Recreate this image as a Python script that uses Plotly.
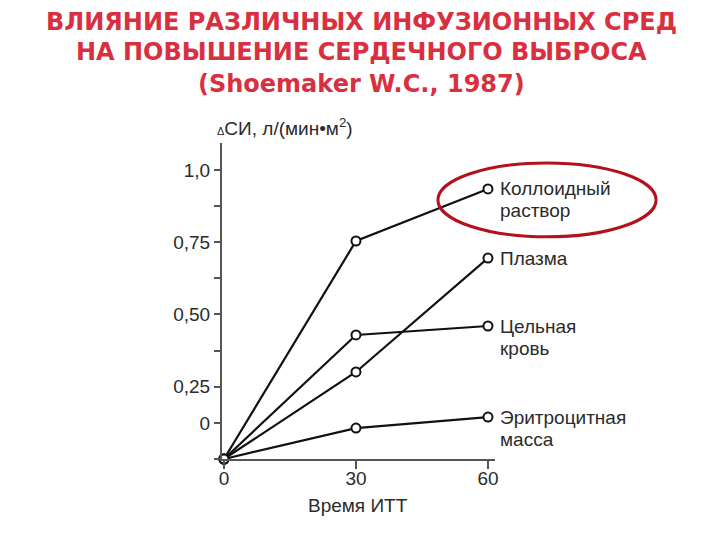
import plotly.graph_objects as go

# Data (y in axis units where the x-axis sits at 0)
time_min = [0, 30, 60]
colloid = [0.0, 0.754, 0.934]
plasma = [0.0, 0.301, 0.695]
whole_blood = [0.0, 0.429, 0.460]
rbc_mass = [0.0, 0.107, 0.145]

series_labels = [["Коллоидный", "раствор"], ["Плазма"], ["Цельная", "кровь"], ["Эритроцитная", "масса"]]
series_values = [colloid, plasma, whole_blood, rbc_mass]

y_tickvals = [0, 0.125, 0.25, 0.375, 0.5, 0.625, 0.75, 0.875, 1.0]
y_ticktext = ["", "0", "0,25", "", "0,50", "", "0,75", "", "1,0"]
x_tickvals = [0, 30, 60]
x_ticktext = ["0", "30", "60"]

title_lines = ["ВЛИЯНИЕ РАЗЛИЧНЫХ ИНФУЗИОННЫХ СРЕД",
               "НА ПОВЫШЕНИЕ СЕРДЕЧНОГО ВЫБРОСА",
               "(Shoemaker W.C., 1987)"]
title_y = [1.383, 1.288, 1.187]

FONT = "Liberation Sans, Arial, sans-serif"
TXT = "#2b2b2b"
AX = "#555555"
FS = 19

fig = go.Figure()
for lines, vals in zip(series_labels, series_values):
    fig.add_trace(go.Scatter(
        x=time_min, y=vals, mode="lines+markers",
        line=dict(color="#111111", width=2.2),
        marker=dict(symbol="circle", size=9, color="white",
                    line=dict(color="#111111", width=2)),
        showlegend=False, hoverinfo="skip", cliponaxis=False,
    ))
    for i, line in enumerate(lines):
        fig.add_annotation(x=time_min[-1], y=vals[-1], text=line, showarrow=False,
                           xanchor="left", yanchor="middle", align="left",
                           xshift=10, yshift=-22 * i,
                           font=dict(family=FONT, size=FS, color=TXT))

for line, ty in zip(title_lines, title_y):
    fig.add_annotation(xref="paper", yref="paper", x=0.51, y=ty, text=line,
                       showarrow=False, xanchor="center", yanchor="middle",
                       font=dict(family="DejaVu Sans, sans-serif", size=24,
                                 color="#d9303f", weight="bold"))

fig.add_annotation(xref="paper", yref="paper", x=-0.025, y=1.051,
                   text="<span style='font-size:11px'>Δ</span>СИ, л/(мин•м<sup>2</sup>)",
                   showarrow=False, xanchor="left", yanchor="middle",
                   font=dict(family=FONT, size=FS, color=TXT))
fig.add_annotation(xref="paper", yref="paper", x=0.498, y=-0.146,
                   text="Время ИТТ", showarrow=False,
                   xanchor="center", yanchor="middle",
                   font=dict(family=FONT, size=FS, color=TXT))

# red ellipse highlighting the colloid label
fig.add_shape(type="circle", xref="paper", yref="paper",
              x0=0.791, x1=1.59, y0=0.703, y1=0.937,
              line=dict(color="#b3121c", width=3))

fig.update_layout(
    width=720, height=540,
    margin=dict(l=214, r=233, t=135, b=89),
    paper_bgcolor="white", plot_bgcolor="white",
    xaxis=dict(range=[-0.45, 61.6], tickvals=x_tickvals, ticktext=x_ticktext,
               showgrid=False, zeroline=False, showline=True, linecolor=AX, linewidth=2,
               ticks="outside", ticklen=8, tickcolor=AX, tickwidth=1.5,
               ticklabelstandoff=-7,
               tickfont=dict(family=FONT, size=FS, color=TXT)),
    yaxis=dict(range=[0, 1.093], tickvals=y_tickvals, ticktext=y_ticktext,
               showgrid=False, zeroline=False, showline=True, linecolor=AX, linewidth=2,
               ticks="outside", ticklen=6, tickcolor=AX, tickwidth=1.5,
               tickfont=dict(family=FONT, size=FS, color=TXT)),
)

fig.write_html("out.html")
